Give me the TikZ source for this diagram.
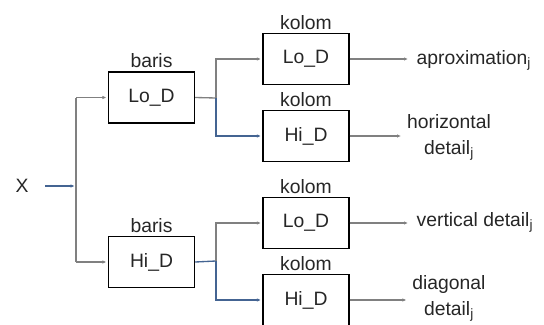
\documentclass[tikz,border=0pt]{standalone}
\usepackage{fontspec}
\setmainfont{Liberation Sans}
\usetikzlibrary{arrows.meta}
\definecolor{wiregray}{RGB}{128,128,128}
\definecolor{wireblue}{RGB}{68,100,146}

\begin{document}
\begin{tikzpicture}[x=0.75pt,y=-0.75pt,
	every node/.style={font=\fontsize{14.5}{19.5}\selectfont, text=black!85},
	box/.style={draw=black, line width=1.1pt, minimum width=64.5pt, minimum height=38.5pt},
	gw/.style={draw=wiregray, line width=1pt},
	bw/.style={draw=wireblue, line width=1pt},
	arr/.style={-{Latex[length=3pt,width=2.6pt]}, shorten >=1pt}]
			\useasboundingbox (0,0) rectangle (544,325);
			\node (x) at (22,186) {X};
			\coordinate (split) at (76,186);
			\node[box, label={[yshift=-1pt]above:baris}] (rowlo) at (151.5,97.5) {Lo\_D};
			\node[box, label={[yshift=-1pt]above:baris}] (rowhi) at (151.5,262) {Hi\_D};
			\coordinate (jlo) at (216,98);
			\coordinate (jhi) at (216,261);
			\node[box, label={[yshift=-1pt]above:kolom}] (ll) at (306,59) {Lo\_D};
			\node[box, label={[yshift=-1pt]above:kolom}] (lh) at (306,136) {Hi\_D};
			\node[box, label={[yshift=-1pt]above:kolom}] (hl) at (306,223) {Lo\_D};
			\node[box, label={[yshift=-1pt]above:kolom}] (hh) at (306,300) {Hi\_D};
			\node[anchor=west] (oa) at (412,60) {aproximation\textsubscript{j}};
			\node[align=center] (ob) at (449,137) {horizontal\\detail\textsubscript{j}};
			\node[anchor=west] (oc) at (412,222) {vertical detail\textsubscript{j}};
			\node[align=center] (od) at (449,298) {diagonal\\detail\textsubscript{j}};
			\draw[bw,arr,shorten <=9pt] (x.east) -- (split);
			\draw[gw] (rowlo.west -| split) -- (rowhi.west -| split);
			\draw[gw,arr] (rowlo.west -| split) -- (rowlo.west);
			\draw[gw,arr] (rowhi.west -| split) -- (rowhi.west);
			\draw[gw] (rowlo.east) -- (jlo);
			\draw[gw,arr] (jlo) |- (ll.west);
			\draw[bw,arr] (jlo) |- (lh.west);
			\draw[bw] (rowhi.east) -- (jhi);
			\draw[gw,arr] (jhi) |- (hl.west);
			\draw[bw,arr] (jhi) |- (hh.west);
			\draw[gw,arr,shorten >=3pt] (ll.east) -- (ll.east -| oa.west);
			\draw[gw,arr] (lh.east) -- (lh.east -| ob.west);
			\draw[gw,arr,shorten >=3pt] (hl.east) -- (hl.east -| oc.west);
			\draw[gw,arr] (hh.east) -- (hh.east -| od.west);
		\end{tikzpicture}
\end{document}
